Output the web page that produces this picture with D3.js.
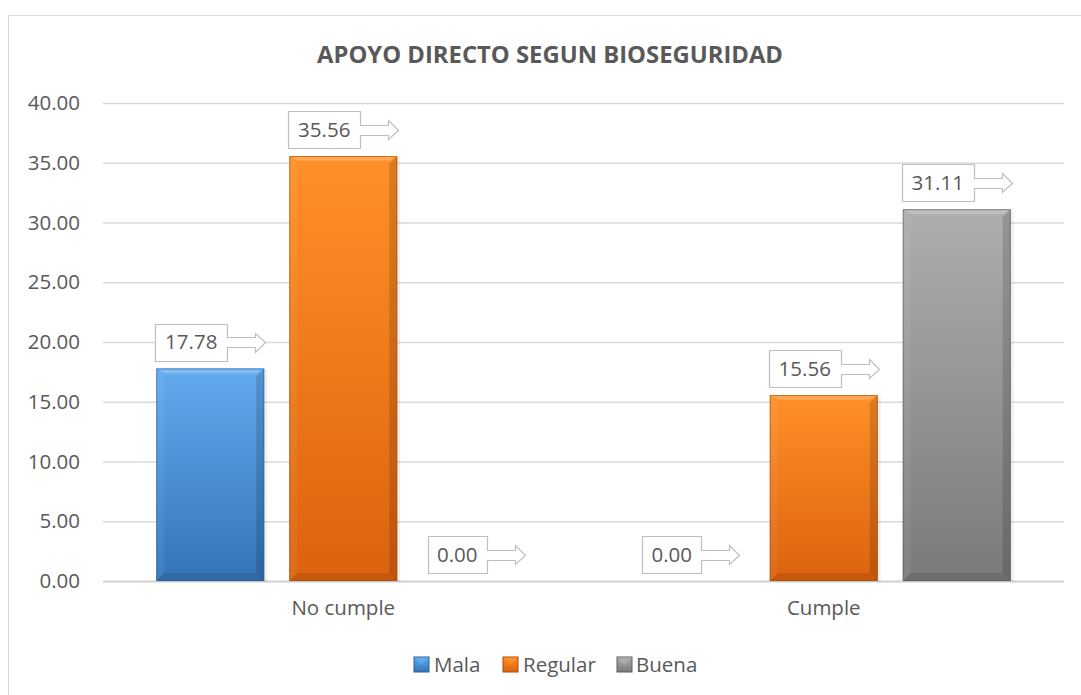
<!DOCTYPE html>
<html>
<head>
<meta charset="utf-8">
<script src="https://cdn.jsdelivr.net/npm/d3@7"></script>
<style>
  body { margin: 0; background: #fff; }
  text { font-family: "Open Sans", sans-serif; fill: #595959; }
</style>
</head>
<body>
<div id="chart"></div>
<script>
var categories = ["No cumple", "Cumple"];
var seriesNames = ["Mala", "Regular", "Buena"];
var mala = [17.78, 0.00];
var regular = [35.56, 15.56];
var buena = [0.00, 31.11];
var yTicks = [0, 5, 10, 15, 20, 25, 30, 35, 40];

var seriesValues = [mala, regular, buena];
var colors = {
  Mala:    { light: "#62abee", mid: "#4a92d8", dark: "#3474b8", edge: "#2a5d94" },
  Regular: { light: "#ff9027", mid: "#f97d12", dark: "#dc620e", edge: "#a84a08" },
  Buena:   { light: "#aeaeae", mid: "#999999", dark: "#7a7a7a", edge: "#5c5c5c" }
};

var width = 1081, height = 695;
var plot = { left: 103, right: 1064, top: 103, bottom: 581 };
var fontSize = 20.5;

var svg = d3.select("#chart").append("svg")
  .attr("width", width)
  .attr("height", height);

var defs = svg.append("defs");
seriesNames.forEach(function(s){
  var g = defs.append("linearGradient")
    .attr("id", "grad-" + s)
    .attr("x1", 0).attr("y1", 0).attr("x2", 0).attr("y2", 1);
  g.append("stop").attr("offset", "0%").attr("stop-color", colors[s].light);
  g.append("stop").attr("offset", "100%").attr("stop-color", colors[s].dark);
});

// chart frame
svg.append("rect")
  .attr("x", 8.5).attr("y", 15.5)
  .attr("width", 1100).attr("height", 700)
  .attr("fill", "none")
  .attr("stroke", "#d9d9d9");

// title
svg.append("text")
  .attr("x", 550).attr("y", 63)
  .attr("text-anchor", "middle")
  .attr("font-size", 23)
  .attr("font-weight", "bold")
  .attr("textLength", 466)
  .attr("lengthAdjust", "spacingAndGlyphs")
  .text("APOYO DIRECTO SEGUN BIOSEGURIDAD");

var y = d3.scaleLinear().domain([0, 40]).range([plot.bottom, plot.top]);

var x0 = d3.scaleBand().domain(categories).range([plot.left, plot.right]).padding(0);
var groupW = 374;
var x1 = d3.scaleBand().domain(seriesNames).range([0, groupW]).paddingInner(25 / 133);

// gridlines
svg.append("g").selectAll("line")
  .data(yTicks)
  .enter().append("line")
  .attr("x1", plot.left).attr("x2", plot.right)
  .attr("y1", function(d){ return y(d) + 0.5; })
  .attr("y2", function(d){ return y(d) + 0.5; })
  .attr("stroke", function(d){ return d === 0 ? "#d0d0d0" : "#d9d9d9"; })
  .attr("stroke-width", function(d){ return d === 0 ? 2 : 1.3; });

// y axis labels
var yAxis = d3.axisLeft(y).tickValues(yTicks).tickFormat(d3.format(".2f")).tickSize(0).tickPadding(0);
var yg = svg.append("g")
  .attr("transform", "translate(80,0)")
  .call(yAxis);
yg.select(".domain").remove();
yg.selectAll("text").attr("font-size", fontSize).attr("fill", "#595959")
  .style("font-family", "'Open Sans', sans-serif");

// category labels
var xAxis = d3.axisBottom(x0).tickSize(0).tickPadding(0);
var xg = svg.append("g")
  .attr("transform", "translate(0,600)")
  .call(xAxis);
xg.select(".domain").remove();
xg.selectAll("text").attr("font-size", fontSize).attr("fill", "#595959")
  .style("font-family", "'Open Sans', sans-serif");

// data rows
var rows = [];
categories.forEach(function(c, ci){
  seriesNames.forEach(function(s, si){
    rows.push({ cat: c, series: s, value: seriesValues[si][ci] });
  });
});

var groupOffset = (x0.bandwidth() - groupW) / 2;
var bev = 8;

function bevelBar(g, x, yTop, w, h, s){
  var c = colors[s];
  g.append("rect").attr("x", x).attr("y", yTop).attr("width", w).attr("height", h)
    .attr("fill", "url(#grad-" + s + ")");
  if (h <= 0) return;
  var b = Math.min(bev, h / 2, w / 2);
  var x2 = x + w, y2 = yTop + h;
  // top bevel
  g.append("polygon")
    .attr("points", [[x, yTop], [x2, yTop], [x2 - b, yTop + b], [x + b, yTop + b]].join(" "))
    .attr("fill", c.light);
  g.append("polygon")
    .attr("points", [[x, yTop], [x2, yTop], [x2 - b, yTop + b * 0.6], [x + b, yTop + b * 0.6]].join(" "))
    .attr("fill", "#ffffff").attr("opacity", 0.22);
  // left bevel
  g.append("polygon")
    .attr("points", [[x, yTop], [x + b, yTop + b], [x + b, y2 - b], [x, y2]].join(" "))
    .attr("fill", "#ffffff").attr("opacity", 0.06);
  // right bevel
  g.append("polygon")
    .attr("points", [[x2, yTop], [x2 - b, yTop + b], [x2 - b, y2 - b], [x2, y2]].join(" "))
    .attr("fill", "#000000").attr("opacity", 0.14);
  // bottom bevel
  g.append("polygon")
    .attr("points", [[x, y2], [x + b, y2 - b], [x2 - b, y2 - b], [x2, y2]].join(" "))
    .attr("fill", "#000000").attr("opacity", 0.1);
  g.append("rect").attr("x", x + 0.5).attr("y", yTop + 0.5).attr("width", w - 1).attr("height", h - 1)
    .attr("fill", "none").attr("stroke", c.edge).attr("stroke-width", 1).attr("opacity", 0.6);
}

var bars = svg.append("g");
rows.forEach(function(d){
  var bx = x0(d.cat) + groupOffset + x1(d.series);
  var by = y(d.value);
  var bh = y(0) - by;
  if (d.value > 0) {
    // soft shadow
    bars.append("rect").attr("x", bx + 1).attr("y", by + 1).attr("width", x1.bandwidth() + 2).attr("height", bh)
      .attr("fill", "#000").attr("opacity", 0.06);
    bevelBar(bars, bx, by, x1.bandwidth(), bh, d.series);
  }
});

// callout labels
var labels = svg.append("g");
var fmt = d3.format(".2f");
rows.forEach(function(d){
  var bx = x0(d.cat) + groupOffset + x1(d.series);
  var cx = bx + x1.bandwidth() / 2;
  var txt = fmt(d.value);
  var boxW = d.value >= 10 ? 72 : 59;
  var arrowL = 38;
  var total = boxW + arrowL;
  var left = cx - total / 2;
  var bottom = y(d.value) - 8;
  var top = bottom - 37;
  var mid = (top + bottom) / 2;
  var ax = left + boxW;
  var shaftEnd = ax + 28;
  var tip = ax + arrowL;
  var pts = [
    [left, top], [ax, top], [ax, mid - 5], [shaftEnd, mid - 5], [shaftEnd, mid - 9.5],
    [tip, mid], [shaftEnd, mid + 9.5], [shaftEnd, mid + 5], [ax, mid + 5], [ax, bottom], [left, bottom]
  ];
  labels.append("polygon")
    .attr("points", pts.map(function(p){ return [Math.round(p[0]) + 0.5, Math.round(p[1]) + 0.5]; }).join(" "))
    .attr("fill", "#ffffff")
    .attr("stroke", "#bfbfbf")
    .attr("stroke-width", 1.2);
  labels.append("text")
    .attr("x", left + boxW / 2).attr("y", mid)
    .attr("dy", "0.36em")
    .attr("text-anchor", "middle")
    .attr("font-size", fontSize)
    .text(txt);
});

// legend
var legendItems = [
  { name: "Mala", sx: 414, tx: 434 },
  { name: "Regular", sx: 503, tx: 523 },
  { name: "Buena", sx: 617, tx: 636 }
];
var legend = svg.append("g");
legendItems.forEach(function(it){
  var c = colors[it.name];
  legend.append("rect").attr("x", it.sx).attr("y", 657).attr("width", 15).attr("height", 15)
    .attr("fill", "url(#grad-" + it.name + ")").attr("stroke", c.edge).attr("stroke-width", 1);
  legend.append("polygon")
    .attr("points", [[it.sx + 0.5, 657.5], [it.sx + 14.5, 657.5], [it.sx + 7.5, 665]].join(" "))
    .attr("fill", c.light).attr("opacity", 0.8);
  legend.append("text")
    .attr("x", it.tx).attr("y", 672)
    .attr("font-size", fontSize)
    .text(it.name);
});
</script>
</body>
</html>
